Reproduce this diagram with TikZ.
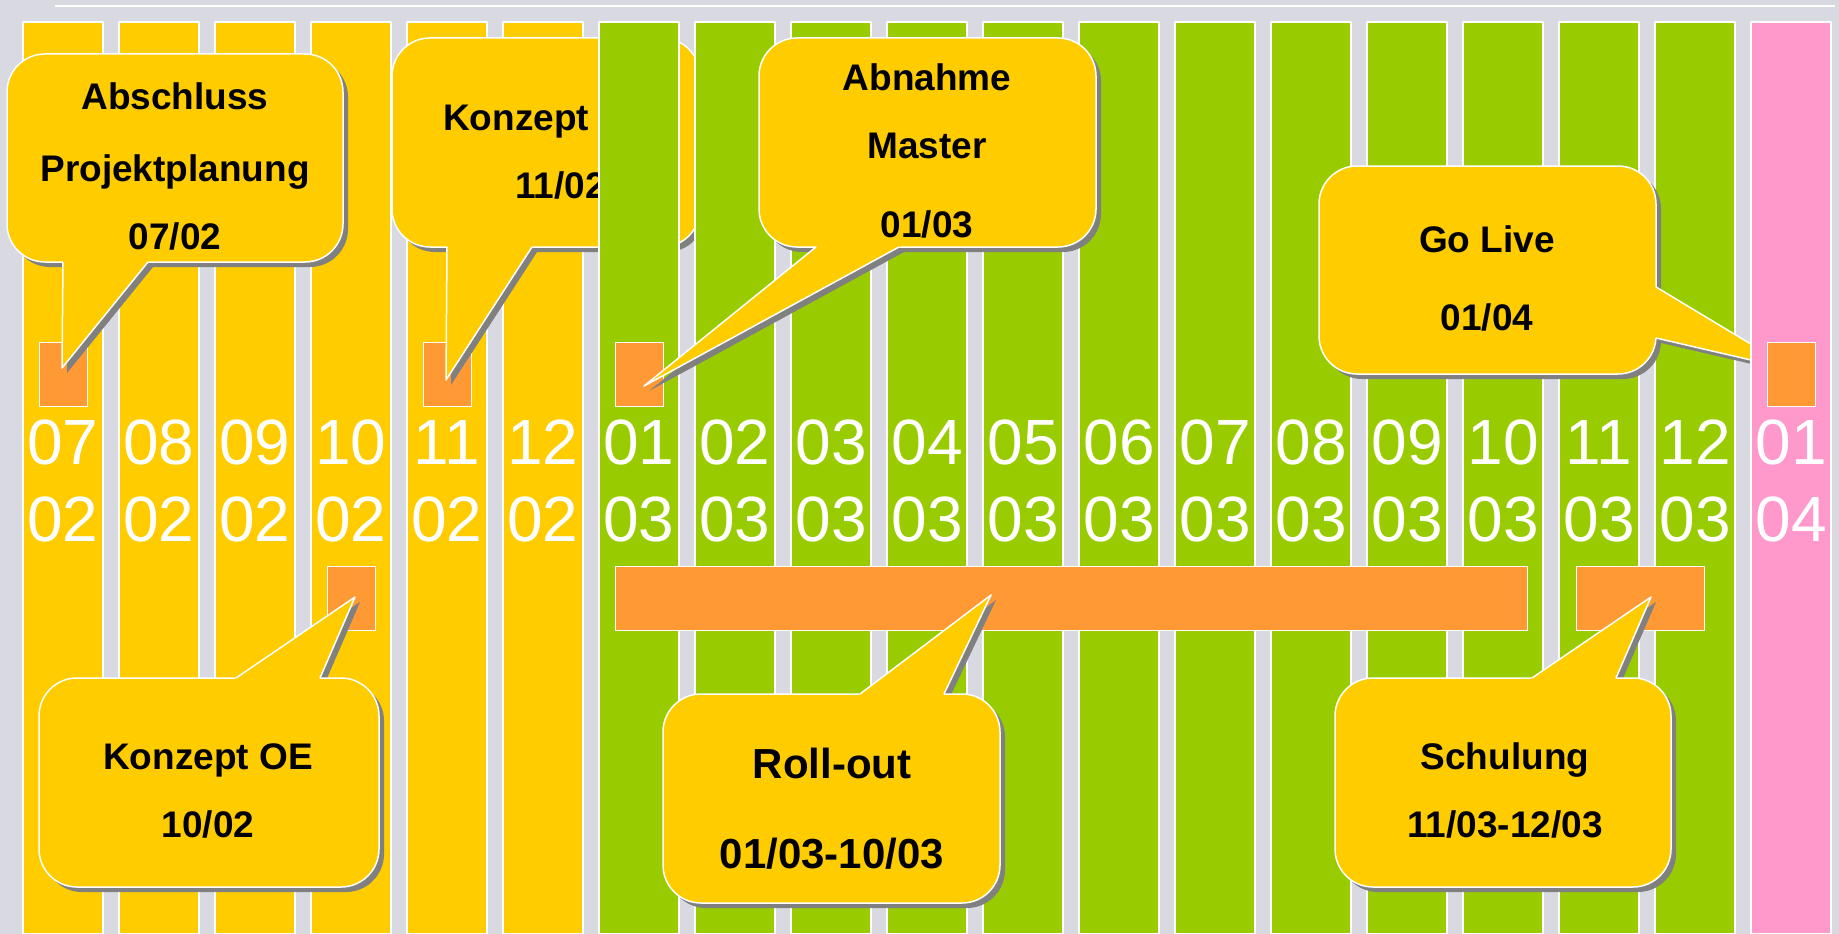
\documentclass[tikz,border=0pt]{standalone}
\usepackage{fontspec}
\setmainfont{Liberation Sans}
\usetikzlibrary{calc}

\definecolor{bgGrey}{RGB}{217,217,226}
\definecolor{phaseYellow}{RGB}{255,204,0}
\definecolor{phaseGreen}{RGB}{153,204,0}
\definecolor{phasePink}{RGB}{255,153,204}
\definecolor{taskOrange}{RGB}{255,153,51}
\definecolor{shadowGrey}{RGB}{128,128,128}

% speech bubble: #1 top left, #2 bottom right, #3 wedge start, #4 tip, #5 wedge end
\newcommand{\callout}[5]{%
  \fill[shadowGrey, rounded corners=38pt] ($#1+(5,5)$) rectangle ($#2+(5,5)$);
  \fill[shadowGrey] ($#3+(5,5)$) -- ($#4+(5,5)$) -- ($#5+(5,5)$) -- cycle;
  \filldraw[bubble] #1 rectangle #2;
  \fill[phaseYellow] ($#3!-2pt!#4$) -- #4 -- ($#5!-2pt!#4$) -- cycle;
  \draw[white, line width=1.5pt] #3 -- #4 -- #5;
}

\begin{document}
\begin{tikzpicture}[x=1pt, y=-1pt, line join=round,
	column/.style={draw=white, line width=1.2pt},
	monthlabel/.style={text=white, anchor=base, inner sep=0pt, font=\fontsize{64}{64}\selectfont},
	milestone/.style={draw=white, line width=1pt, fill=taskOrange, inner sep=0pt,
		minimum width=48pt, minimum height=64pt},
	bubble/.style={fill=phaseYellow, draw=white, line width=1.5pt, rounded corners=38pt},
	bubbletext/.style={anchor=base, inner sep=0pt, font=\fontsize{37}{37}\selectfont\bfseries}]
	
	\useasboundingbox (0,0) rectangle (1839,934);
	\fill[bgGrey] (0,0) rectangle (1839,934);
	\draw[white, line width=2.5pt] (55,6) -- (1835,6);
	
	% ===== 2002: months 07..12 =====
	\foreach \i/\mm in {0/07,1/08,2/09,3/10,4/11,5/12}{
		\draw[column, fill=phaseYellow] ({23+96*\i},22) rectangle ++(80,912);
		\node[monthlabel] (m02-\i) at ({63+96*\i},464) {\mm};
		\node[monthlabel] (y02-\i) at ({63+96*\i},541) {02};
	}
	
	\node[milestone] (ms0702) at (63,374) {};
	\node[milestone] (ms1102) at (447,374) {};
	\node[milestone] (ms1002) at (351,598.5) {};
	
	% Abschluss Projektplanung
	\callout{(7,54)}{(343,262)}{(63,262)}{($(ms0702)+(-1,-6)$)}{(148,262)}
	\node[bubbletext] (abschluss1) at (175,110) {Abschluss};
	\node[bubbletext] (abschluss2) at (175,181) {Projektplanung};
	\node[bubbletext] (abschluss3) at (175,249) {07/02};
	
	% Konzept 11/02 (partly hidden behind 2003)
	\callout{(392,38)}{(700,247)}{(447,247)}{($(ms1102)+(-1,6)$)}{(532,247)}
	\node[bubbletext, anchor=base west] (konzept1) at (443,130) {Konzept};
	\node[bubbletext, anchor=base west] (konzept2) at (515,198) {11/02};
	
	% Konzept OE
	\callout{(39,678)}{(379,887)}{(236,678)}{($(ms1002)+(4,-1.5)$)}{(320,678)}
	\node[bubbletext] (oe1) at (208,769) {Konzept OE};
	\node[bubbletext] (oe2) at (208,837) {10/02};
	
	% ===== 2003: months 01..12 =====
	\foreach \i/\mm in {6/01,7/02,8/03,9/04,10/05,11/06,12/07,13/08,14/09,15/10,16/11,17/12}{
		\draw[column, fill=phaseGreen] ({23+96*\i},22) rectangle ++(80,912);
		\node[monthlabel] (m03-\i) at ({63+96*\i},464) {\mm};
		\node[monthlabel] (y03-\i) at ({63+96*\i},541) {03};
	}
	
	\node[milestone] (ms0103) at (639,374) {};
	\node[milestone, minimum width=912pt] (rollout) at (1071,598.5) {};
	\node[milestone, minimum width=128pt] (schulung) at (1640,598.5) {};
	
	% Abnahme Master
	\callout{(759,38)}{(1096,247)}{(816,247)}{($(ms0103)+(5,12)$)}{(899,247)}
	\node[bubbletext] (abnahme1) at (927,90) {Abnahme};
	\node[bubbletext] (abnahme2) at (927,158) {Master};
	\node[bubbletext] (abnahme3) at (927,237) {01/03};
	
	% Roll-out
	\callout{(663,694)}{(1000,903)}{(860,694)}{($(rollout)+(-80,-3.5)$)}{(944,694)}
	\node[bubbletext, font=\fontsize{42}{42}\selectfont\bfseries] (roll1) at (832,778) {Roll-out};
	\node[bubbletext, font=\fontsize{42}{42}\selectfont\bfseries] (roll2) at (832,868) {01/03-10/03};
	
	% Schulung
	\callout{(1335,678)}{(1671,887)}{(1532,678)}{($(schulung)+(11,-1.5)$)}{(1616,678)}
	\node[bubbletext] (schulung1) at (1505,769) {Schulung};
	\node[bubbletext] (schulung2) at (1505,837) {11/03-12/03};
	
	% Go Live (tip runs under 2004)
	\coordinate (golive) at (1794,370);
	\callout{(1319,166)}{(1656,374)}{(1656,287)}{(golive)}{(1656,338)}
	\node[bubbletext] (golive1) at (1487,252) {Go Live};
	\node[bubbletext] (golive2) at (1487,330) {01/04};
	
	% ===== 2004 =====
	\draw[column, fill=phasePink] (1751,22) rectangle ++(80,912);
	\node[monthlabel] (m04-18) at (1791,464) {01};
	\node[monthlabel] (y04-18) at (1791,541) {04};
	\node[milestone] (ms0104) at (1791,374) {};
	
\end{tikzpicture}
\end{document}
